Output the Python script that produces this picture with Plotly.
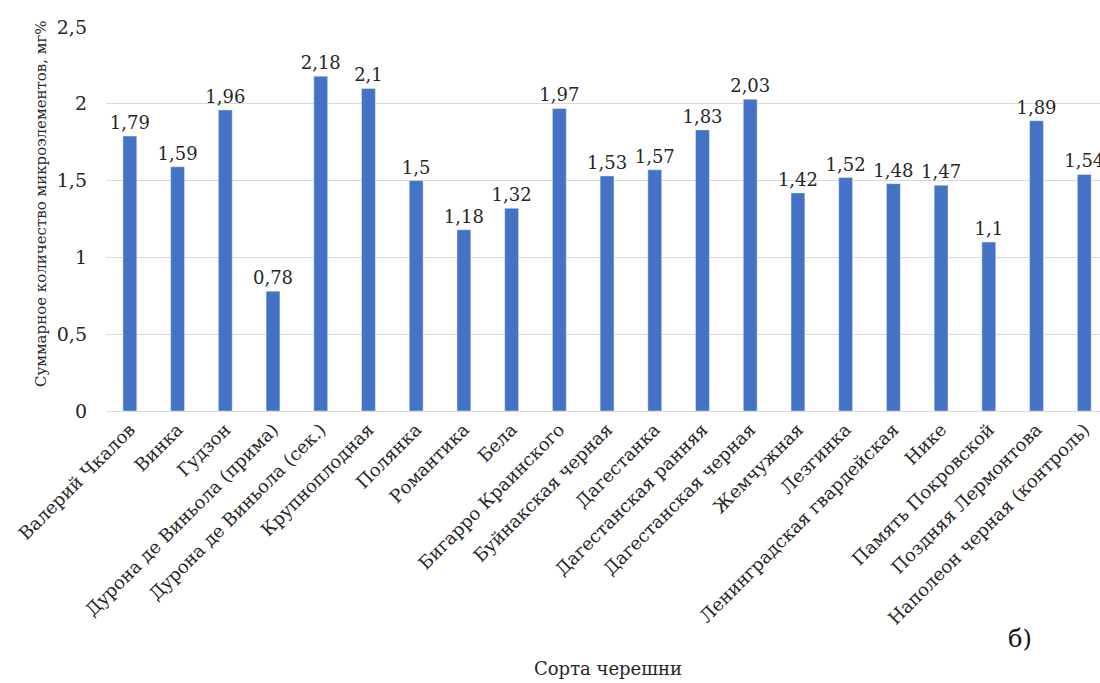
import plotly.graph_objects as go

categories = [
    "Валерий Чкалов", "Винка", "Гудзон", "Дурона де Виньола (прима)",
    "Дурона де Виньола (сек.)", "Крупноплодная", "Полянка", "Романтика", "Бела",
    "Бигарро Краинского", "Буйнакская черная", "Дагестанка", "Дагестанская ранняя",
    "Дагестанская черная", "Жемчужная", "Лезгинка", "Ленинградская гвардейская",
    "Нике", "Память Покровской", "Поздняя Лермонтова", "Наполеон черная (контроль)",
]
values = [1.79, 1.59, 1.96, 0.78, 2.18, 2.1, 1.5, 1.18, 1.32, 1.97, 1.53, 1.57,
          1.83, 2.03, 1.42, 1.52, 1.48, 1.47, 1.1, 1.89, 1.54]
labels = [("%g" % v).replace(".", ",") for v in values]

FONT = "'DejaVu Serif', serif"
TXT = "#262626"
fig = go.Figure(go.Bar(
    x=categories, y=values, text=labels, textposition="outside",
    constraintext="none",
    textfont=dict(family=FONT, size=18, color=TXT),
    marker_color="#4472C4", cliponaxis=False,
))
fig.update_layout(
    width=1100, height=683, separators=", ",
    margin=dict(l=106, r=0, t=27, b=272),
    plot_bgcolor="white", paper_bgcolor="white",
    bargap=0.71, showlegend=False,
    font=dict(family=FONT, size=18, color=TXT),
)
fig.update_xaxes(tickangle=-45, range=[-0.5, len(categories) - 0.5 - 0.17],
                 showline=True, linecolor="#d9d9d9", ticks="",
                 tickfont=dict(family=FONT, size=18, color=TXT))
fig.update_yaxes(range=[0, 2.5], dtick=0.5, showgrid=True, gridcolor="#d9d9d9",
                 zeroline=False, tickfont=dict(family=FONT, size=19, color=TXT),
                 ticklabelstandoff=18)
fig.add_annotation(text="Суммарное количество микроэлементов, мг%", textangle=-90,
                   xref="paper", yref="paper", x=-0.066, y=0.54, xanchor="center",
                   yanchor="middle", showarrow=False,
                   font=dict(family=FONT, size=15, color=TXT))
fig.add_annotation(text="Сорта черешни", xref="paper", yref="paper",
                   x=0.505, y=-0.67, xanchor="center", yanchor="middle", showarrow=False,
                   font=dict(family=FONT, size=18, color=TXT))
fig.add_annotation(text="б)", xref="paper", yref="paper",
                   x=0.92, y=-0.595, xanchor="center", yanchor="middle", showarrow=False,
                   font=dict(family=FONT, size=24, color="#111111"))
fig.write_html("out.html")
